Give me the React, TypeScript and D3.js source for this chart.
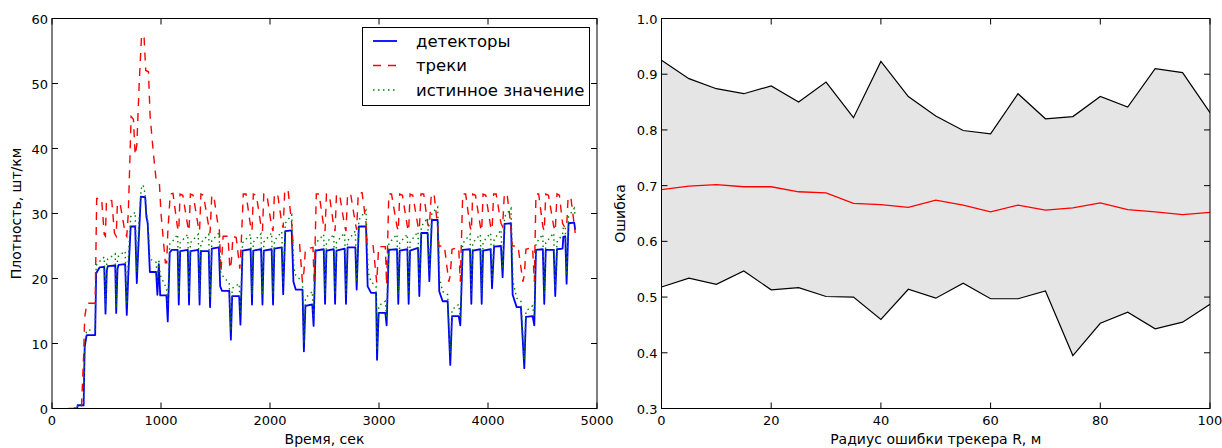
import React from "react";
import * as d3 from "d3";

// ---------- Left panel data: [time (s), density] ----------
const detectors: [number, number][] = [
  [200,0],[232,0],[235,0.5],[290,0.5],[300,9.5],[318,11.3],[396,11.3],[405,20.8],[436,21.7],[479,21.8],[491,14.6],[503,21.3],[512,21.9],[580,22],[589,14.7],[601,21.5],[612,22.1],[671,22.2],[686,14.4],[700,20.5],[722,28],[763,28],[778,19.3],[793,25],[815,32.6],[855,32.5],[866,29.5],[878,28.5],[898,21],[955,21],[967,17.5],[980,22.2],[993,17.4],[1050,17.4],[1062,13.4],[1080,24],[1100,24.4],[1153,24.4],[1163,16],[1176,24.2],[1246,24.4],[1257,16],[1270,24.2],[1342,24.4],[1354,16],[1366,24.2],[1438,24.2],[1450,15.6],[1466,24.6],[1531,24.8],[1543,18.8],[1560,18.1],[1626,18.1],[1641,10.6],[1653,17.3],[1717,17.3],[1729,12.9],[1748,24.3],[1822,24.5],[1835,16],[1847,24.3],[1918,24.5],[1931,16],[1943,24.3],[2015,24.5],[2028,16],[2040,24.6],[2108,24.8],[2121,17.6],[2140,27.3],[2199,27.4],[2215,19.5],[2236,18.3],[2298,18.3],[2311,8.8],[2325,15.8],[2388,16],[2400,12.7],[2418,24.3],[2493,24.5],[2505,16.1],[2518,24.3],[2585,24.5],[2597,16.1],[2610,24.3],[2685,24.6],[2697,16.1],[2712,24.8],[2783,24.8],[2795,18.3],[2815,28],[2881,28],[2896,18.8],[2927,17.8],[2973,17.8],[2982,7.5],[2997,14.7],[3058,14.7],[3070,12.8],[3090,24.4],[3165,24.5],[3177,16.1],[3190,24.3],[3260,24.5],[3272,16.1],[3285,24.3],[3358,24.7],[3370,17.3],[3388,27],[3446,27],[3462,19.6],[3485,29],[3538,29],[3553,18],[3584,16.5],[3630,16.5],[3654,6.7],[3670,14.2],[3731,14.2],[3746,12.8],[3768,24.4],[3835,24.5],[3847,16.1],[3860,24.3],[3930,24.5],[3942,16.1],[3955,24.3],[4024,24.5],[4037,18.5],[4056,24.9],[4119,25],[4134,20.2],[4152,28.4],[4211,28.5],[4226,17.5],[4263,15.6],[4302,15.6],[4333,6.2],[4348,14.1],[4409,14.2],[4425,12.8],[4440,24.4],[4503,24.5],[4516,16.1],[4530,24.4],[4603,24.4],[4617,17.3],[4633,24.5],[4684,24.6],[4691,26.4],[4709,26.5],[4721,19.2],[4739,28.5],[4791,28.6],[4800,27.5]
];

const tracks: [number, number][] = [
  [150,0],[270,0],[290,8],[300,14],[320,16.2],[396,16.2],[410,32.3],
  [455,32.3],[479,26.8],[490,26.5],[500,32.1],[548,32],[573,27],[589,26.5],[600,31.6],[625,31.5],[671,27],[686,26.5],[700,30],[726,44.9],[747,44.5],[763,39],[778,40.5],[800,50],[822,57.5],[845,57],[860,52],[885,51.8],[900,45],[930,39.3],[955,35.2],[985,34.8],[1000,30],[1040,22.4],[1052,22.4],[1062,27],[1085,33],
  [1110,33.1],[1150,28],[1163,27.3],[1175,33],[1200,32.8],[1246,28],[1257,27.3],[1270,33],[1295,32.8],[1342,28],[1354,27.3],[1366,33],[1390,32.8],[1438,28],[1450,27],[1466,32.8],[1485,32.6],[1525,28],[1535,27.5],[1550,21],[1570,26.5],[1615,26.5],[1632,21.5],[1645,22.5],[1660,26.5],[1690,26.3],[1723,21.5],[1735,25],[1755,33],
  [1780,33],[1822,28],[1835,27.3],[1847,33],[1875,32.8],[1918,28],[1931,27.3],[1943,33],[1970,33],[2015,28],[2028,27.3],[2040,33],[2070,33],[2108,28.5],[2121,27.8],[2135,33.5],[2165,33.7],[2199,28.5],[2211,25.2],[2272,25.2],[2297,19.5],[2311,21],[2325,24.5],[2394,24.8],[2405,19.5],[2425,33],
  [2450,33],[2493,28],[2505,27.3],[2518,33],[2545,32.8],[2585,28],[2597,27.3],[2610,33],[2640,32.8],[2685,28],[2697,27.3],[2712,33],[2740,33],[2783,28.5],[2795,27.5],[2810,33.2],[2845,33.2],[2881,28.5],[2890,25.2],[2945,25.2],[2979,19.4],[2997,24.9],[3058,24.9],[3070,19],[3090,33],
  [3115,33],[3165,28],[3177,27.3],[3190,33],[3215,32.8],[3260,28],[3272,27.3],[3285,33],[3310,32.8],[3358,28],[3370,27.5],[3385,33],[3410,33],[3446,28.5],[3462,28],[3480,33],[3505,33],[3538,28],[3550,25],[3600,25],[3640,19.5],[3654,20.5],[3670,24.5],[3731,24.8],[3746,19.5],[3768,33],
  [3795,33],[3835,28],[3847,27.3],[3860,33],[3885,32.8],[3930,28],[3942,27.3],[3955,33],[3980,32.8],[4024,28],[4037,27.5],[4052,33],[4075,33],[4119,28.5],[4134,28],[4150,33],[4175,33],[4211,28],[4222,25],[4275,25],[4320,19.5],[4333,20.5],[4348,24.5],[4409,24.8],[4425,19.5],[4440,33],
  [4465,33],[4503,28],[4516,27.3],[4530,33],[4555,32.8],[4603,28],[4617,27.3],[4633,33],[4655,32.8],[4684,28.5],[4700,28],[4721,27.8],[4735,32.5],[4760,32.5],[4800,27]
];

const trueValue: [number, number][] = [
  [200,0],[232,0],[236,0.6],[290,0.6],[300,10],[318,12],[396,12.2],
  [405,22],[436,22.6],[479,23.3],[491,15.5],[503,22.5],[512,23],[580,23.8],[589,15.5],[601,23],[612,23.5],[671,24.2],[686,16],[700,23],[722,29.5],[763,30.2],[778,21],[795,28],[818,33.8],[836,34.4],[855,33],[868,30],[880,28.5],[898,23],[955,22.5],[967,19.5],[980,23],[993,20.5],[1050,18.5],[1062,16],[1080,25.3],
  [1100,25.6],[1153,26.8],[1163,17.5],[1176,25.5],[1246,26.8],[1257,17.5],[1270,25.5],[1342,26.8],[1354,17.5],[1366,25.5],[1438,26.8],[1450,17],[1466,25.8],[1531,27],[1548,21],[1560,20.5],[1626,19.3],[1641,12],[1653,18.5],[1717,19.2],[1729,14.5],[1748,25.5],
  [1822,26.8],[1835,17.5],[1847,25.6],[1918,26.9],[1931,17.5],[1943,25.6],[2015,27],[2028,17.5],[2040,25.8],[2108,27.2],[2121,19],[2140,28.5],[2199,29.8],[2220,21.5],[2236,20.5],[2298,19.5],[2311,10],[2325,17],[2388,18],[2400,14],[2418,25.4],
  [2493,26.8],[2505,17.5],[2518,25.5],[2585,26.8],[2597,17.5],[2610,25.6],[2685,27],[2697,17.5],[2712,25.8],[2783,27.3],[2795,19.5],[2815,29],[2881,30.5],[2900,21],[2927,19.5],[2973,18.8],[2982,9],[2997,15.8],[3058,16.5],[3070,14],[3090,25.4],
  [3165,26.8],[3177,17.5],[3190,25.5],[3260,26.8],[3272,17.5],[3285,25.6],[3358,27.2],[3370,18.8],[3388,28],[3446,29.3],[3462,21],[3485,30],[3538,31],[3556,20],[3584,18],[3630,17.5],[3654,8.5],[3670,15.2],[3731,16],[3746,14],[3768,25.4],
  [3835,26.8],[3847,17.5],[3860,25.5],[3930,26.8],[3942,17.5],[3955,25.6],[4024,27],[4037,19.8],[4056,26],[4119,27.5],[4134,21.5],[4152,29.5],[4211,30.8],[4230,19.5],[4263,17],[4302,16.5],[4333,7.5],[4348,15],[4409,15.8],[4425,14],[4440,25.4],
  [4503,26.8],[4516,17.5],[4530,25.5],[4603,27],[4617,18.5],[4633,25.6],[4684,26.8],[4691,27.8],[4709,28],[4721,20.5],[4739,29.5],[4791,30.8],[4800,29.5]
];

const leftXTicks = [0, 1000, 2000, 3000, 4000, 5000];
const leftYTicks = [0, 10, 20, 30, 40, 50, 60];

// ---------- Right panel data ----------
const radius = [0,5,10,15,20,25,30,35,40,45,50,55,60,65,70,75,80,85,90,95,100];
const errUpper = [0.925,0.892,0.874,0.865,0.879,0.850,0.886,0.822,0.923,0.860,0.825,0.799,0.793,0.865,0.820,0.824,0.860,0.841,0.910,0.903,0.831];
const errMean  = [0.693,0.699,0.702,0.698,0.698,0.689,0.687,0.668,0.666,0.661,0.674,0.665,0.653,0.665,0.656,0.660,0.669,0.657,0.653,0.648,0.652];
const errLower = [0.518,0.534,0.523,0.547,0.513,0.517,0.501,0.500,0.460,0.514,0.498,0.525,0.497,0.497,0.511,0.395,0.453,0.473,0.443,0.455,0.487];
const rightXTicks = [0, 20, 40, 60, 80, 100];
const rightYTicks = [0.3, 0.4, 0.5, 0.6, 0.7, 0.8, 0.9, 1.0];

const legendItems = [
  { label: "детекторы", color: "#0000ff", dash: "none", width: 1.8 },
  { label: "треки", color: "#ff0000", dash: "8,7", width: 1.4 },
  { label: "истинное значение", color: "#008000", dash: "1.5,3.5", width: 1.4 },
];

const FONT = "DejaVu Sans";
const W = 1222, H = 448;
const TICK = 6;

export default function App() {
  const xL = d3.scaleLinear().domain([0, 5000]).range([52, 597]);
  const yL = d3.scaleLinear().domain([0, 60]).range([408.5, 18.5]);
  const xR = d3.scaleLinear().domain([0, 100]).range([661.5, 1210]);
  const yR = d3.scaleLinear().domain([0.3, 1.0]).range([408.5, 18.5]);

  const lineL = d3.line<[number, number]>().x(d => xL(d[0])).y(d => yL(d[1]));
  const lineR = d3.line<number>().x((_, i) => xR(radius[i])).y(d => yR(d));
  const area = d3.area<number>()
    .x((_, i) => xR(radius[i]))
    .y0((_, i) => yR(errLower[i]))
    .y1((_, i) => yR(errUpper[i]));

  const [lx0, lx1] = xL.range();
  const [ly0, ly1] = yL.range();
  const [rx0, rx1] = xR.range();
  const [ry0, ry1] = yR.range();

  const tickStyle = { fontFamily: FONT, fontSize: 13, fill: "#000" } as const;
  const labelStyle = { fontFamily: FONT, fontSize: 14, fill: "#000" } as const;

  return (
    <svg width={W} height={H} style={{ position: "absolute", left: 0, top: 0, background: "#fff" }}>
      <rect x={0} y={0} width={W} height={H} fill="#fff" />
      <defs>
        <clipPath id="clipL"><rect x={lx0} y={ly1} width={lx1 - lx0} height={ly0 - ly1} /></clipPath>
        <clipPath id="clipR"><rect x={rx0} y={ry1} width={rx1 - rx0} height={ry0 - ry1} /></clipPath>
      </defs>
      {/* ===== Left panel ===== */}
      <g clipPath="url(#clipL)">
        <path d={lineL(detectors) || ""} fill="none" stroke="#0000ff" strokeWidth={1.8} strokeLinejoin="round" />
        <path d={lineL(tracks) || ""} fill="none" stroke="#ff0000" strokeWidth={1.4} strokeDasharray="8,7" />
        <path d={lineL(trueValue) || ""} fill="none" stroke="#008000" strokeWidth={1.4} strokeDasharray="1.5,3.5" />
      </g>
      <rect x={lx0} y={ly1} width={lx1 - lx0} height={ly0 - ly1} fill="none" stroke="#000" strokeWidth={1} />
      {leftXTicks.map(t => (
        <g key={"lx" + t}>
          <line x1={xL(t)} x2={xL(t)} y1={ly0} y2={ly0 - TICK} stroke="#000" />
          <line x1={xL(t)} x2={xL(t)} y1={ly1} y2={ly1 + TICK} stroke="#000" />
          <text x={xL(t)} y={ly0 + 16} textAnchor="middle" {...tickStyle}>{t}</text>
        </g>
      ))}
      {leftYTicks.map(t => (
        <g key={"ly" + t}>
          <line x1={lx0} x2={lx0 + TICK} y1={yL(t)} y2={yL(t)} stroke="#000" />
          <line x1={lx1} x2={lx1 - TICK} y1={yL(t)} y2={yL(t)} stroke="#000" />
          <text x={lx0 - 4} y={yL(t) + 5} textAnchor="end" {...tickStyle}>{t}</text>
        </g>
      ))}
      <text x={(lx0 + lx1) / 2} y={444} textAnchor="middle" {...labelStyle}>Время, сек</text>
      <text transform={`translate(21,${(ly0 + ly1) / 2}) rotate(-90)`} textAnchor="middle" {...labelStyle}>Плотность, шт/км</text>

      {/* Legend */}
      <g>
        <rect x={362.5} y={27.5} width={227} height={78} fill="#fff" stroke="#000" strokeWidth={1} />
        {legendItems.map((it, i) => {
          const cy = 41 + i * 24.5;
          return (
            <g key={it.label}>
              <line x1={373} x2={397} y1={cy} y2={cy} stroke={it.color} strokeWidth={it.width}
                strokeDasharray={it.dash === "none" ? undefined : it.dash} />
              <text x={416} y={cy + 5.5} fontFamily={FONT} fontSize={16.5} fill="#000">{it.label}</text>
            </g>
          );
        })}
      </g>

      {/* ===== Right panel ===== */}
      <g clipPath="url(#clipR)">
        <path d={area(errMean) || ""} fill="#e5e5e5" stroke="none" />
        <path d={lineR(errUpper) || ""} fill="none" stroke="#000" strokeWidth={1.2} />
        <path d={lineR(errLower) || ""} fill="none" stroke="#000" strokeWidth={1.2} />
        <path d={lineR(errMean) || ""} fill="none" stroke="#ff0000" strokeWidth={1.3} />
      </g>
      <rect x={rx0} y={ry1} width={rx1 - rx0} height={ry0 - ry1} fill="none" stroke="#000" strokeWidth={1} />
      {rightXTicks.map(t => (
        <g key={"rx" + t}>
          <line x1={xR(t)} x2={xR(t)} y1={ry0} y2={ry0 - TICK} stroke="#000" />
          <line x1={xR(t)} x2={xR(t)} y1={ry1} y2={ry1 + TICK} stroke="#000" />
          <text x={xR(t)} y={ry0 + 16} textAnchor="middle" {...tickStyle}>{t}</text>
        </g>
      ))}
      {rightYTicks.map(t => (
        <g key={"ry" + t}>
          <line x1={rx0} x2={rx0 + TICK} y1={yR(t)} y2={yR(t)} stroke="#000" />
          <line x1={rx1} x2={rx1 - TICK} y1={yR(t)} y2={yR(t)} stroke="#000" />
          <text x={rx0 - 4} y={yR(t) + 5} textAnchor="end" {...tickStyle}>{t.toFixed(1)}</text>
        </g>
      ))}
      <text x={(rx0 + rx1) / 2} y={444} textAnchor="middle" {...labelStyle}>Радиус ошибки трекера R, м</text>
      <text transform={`translate(625,${(ry0 + ry1) / 2}) rotate(-90)`} textAnchor="middle" {...labelStyle}>Ошибка</text>
    </svg>
  );
}
